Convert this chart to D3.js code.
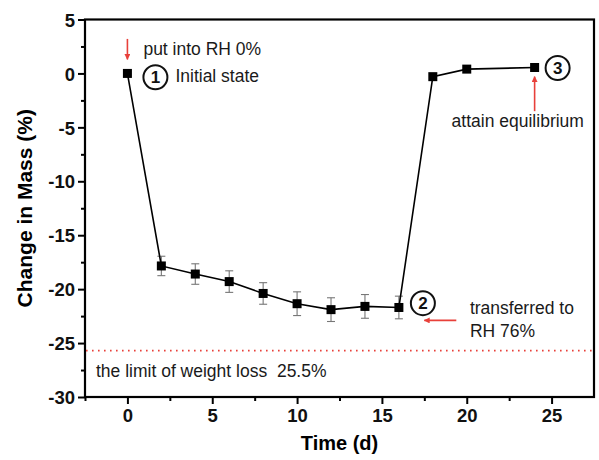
<!DOCTYPE html>
<html>
<head>
<meta charset="utf-8">
<script src="https://cdn.jsdelivr.net/npm/d3@7"></script>
<style>
  body { margin: 0; background: #fff; }
  svg { font-family: "Liberation Sans", Arial, sans-serif; }
  .tick text { font-weight: bold; font-size: 18.5px; fill: #111; }
  .note { font-size: 17.5px; fill: #1a1a1a; white-space: pre; }
</style>
</head>
<body>
<svg id="chart" width="599" height="460"></svg>
<script>
// time in days, mass change in %
var days = [0, 2, 4, 6, 8, 10, 12, 14, 16, 18, 20, 24];
var massChange = [0, -17.85, -18.6, -19.3, -20.4, -21.35, -21.9, -21.6, -21.7, -0.3, 0.4, 0.55];
var errors = [0, 0.9, 0.95, 1.0, 1.0, 1.1, 1.1, 1.1, 1.05, 0, 0, 0];
var xTicks = [0, 5, 10, 15, 20, 25];
var yTicks = [5, 0, -5, -10, -15, -20, -25, -30];
var weightLossLimit = -25.7;

var svg = d3.select('#chart');

var margin = { top: 19.5, right: 5, bottom: 63, left: 85 };
var width = 599 - margin.left - margin.right;
var height = 460 - margin.top - margin.bottom;

var g = svg.append('g')
  .attr('transform', `translate(${margin.left}, ${margin.top})`);

var x = d3.scaleLinear().domain([-2.5, 27.5]).range([0, width]);
var y = d3.scaleLinear().domain([-30, 5]).range([height, 0]);

// minor ticks first
g.append('g')
  .attr('transform', `translate(0, ${height})`)
  .call(d3.axisBottom(x).tickValues([-2.5, 2.5, 7.5, 12.5, 17.5, 22.5]).tickSize(4).tickFormat(''))
  .call(a => a.select('.domain').remove())
  .selectAll('line').attr('stroke-width', 2);

g.append('g')
  .call(d3.axisLeft(y).tickValues([2.5, -2.5, -7.5, -12.5, -17.5, -22.5, -27.5]).tickSize(4).tickFormat(''))
  .call(a => a.select('.domain').remove())
  .selectAll('line').attr('stroke-width', 2);

var xAxis = g.append('g')
  .attr('transform', `translate(0, ${height})`)
  .call(d3.axisBottom(x).tickValues(xTicks).tickSize(7).tickPadding(5).tickSizeOuter(0));
xAxis.select('.domain').remove();
xAxis.selectAll('line').attr('stroke-width', 2);

var yAxis = g.append('g')
  .call(d3.axisLeft(y).tickValues(yTicks).tickSize(7).tickPadding(3).tickFormat(d => String(d)).tickSizeOuter(0));
yAxis.select('.domain').remove();
yAxis.selectAll('line').attr('stroke-width', 2);
yAxis.selectAll('text').attr('dy', '0.36em');

// frame
g.append('rect')
  .attr('width', width)
  .attr('height', height)
  .attr('fill', 'none')
  .attr('stroke', '#000')
  .attr('stroke-width', 2.2);

// limit line
g.append('line')
  .attr('x1', 1).attr('x2', width - 1)
  .attr('y1', y(weightLossLimit)).attr('y2', y(weightLossLimit))
  .attr('stroke', '#e8403a')
  .attr('stroke-width', 1.6)
  .attr('stroke-dasharray', '1.6,4.4');

var data = days.map((d, i) => ({ t: d, m: massChange[i], e: errors[i] }));

// error bars
var eb = g.selectAll('g.err')
  .data(data.filter(d => d.e > 0))
  .enter().append('g')
  .attr('class', 'err')
  .attr('stroke', '#777')
  .attr('stroke-width', 1.1);
eb.append('line')
  .attr('x1', d => x(d.t)).attr('x2', d => x(d.t))
  .attr('y1', d => y(d.m + d.e)).attr('y2', d => y(d.m - d.e));
eb.append('line')
  .attr('x1', d => x(d.t) - 4).attr('x2', d => x(d.t) + 4)
  .attr('y1', d => y(d.m + d.e)).attr('y2', d => y(d.m + d.e));
eb.append('line')
  .attr('x1', d => x(d.t) - 4).attr('x2', d => x(d.t) + 4)
  .attr('y1', d => y(d.m - d.e)).attr('y2', d => y(d.m - d.e));

g.append('path')
  .datum(data)
  .attr('fill', 'none')
  .attr('stroke', '#000')
  .attr('stroke-width', 1.6)
  .attr('d', d3.line().x(d => x(d.t)).y(d => y(d.m)));

g.selectAll('rect.pt')
  .data(data)
  .enter().append('rect')
  .attr('class', 'pt')
  .attr('x', d => x(d.t) - 4.5)
  .attr('y', d => y(d.m) - 4.5)
  .attr('width', 9)
  .attr('height', 9)
  .attr('fill', '#000');

// arrows
var red = '#e8403a';
svg.append('defs').append('marker')
  .attr('id', 'head')
  .attr('viewBox', '0 0 10 10')
  .attr('refX', 9).attr('refY', 5)
  .attr('markerWidth', 6).attr('markerHeight', 6)
  .attr('markerUnits', 'userSpaceOnUse')
  .attr('orient', 'auto')
  .append('path').attr('d', 'M0,0L10,5L0,10z').attr('fill', red);

function arrow(x1, y1, x2, y2) {
  g.append('line')
    .attr('x1', x1).attr('y1', y1).attr('x2', x2).attr('y2', y2)
    .attr('stroke', red).attr('stroke-width', 1.6)
    .attr('marker-end', 'url(#head)');
}
arrow(x(0), y(3.2), x(0), y(1.3));
arrow(x(24), y(-3.5), x(24), y(-0.3));
arrow(x(27.4) - 136, y(-22.9), x(27.4) - 168, y(-22.9));

function circled(cx, cy, label) {
  g.append('circle')
    .attr('cx', cx).attr('cy', cy).attr('r', 12)
    .attr('fill', 'none').attr('stroke', '#111').attr('stroke-width', 2);
  g.append('text')
    .attr('x', cx).attr('y', cy).attr('dy', '0.36em')
    .attr('text-anchor', 'middle')
    .style('font-size', '17px').style('font-weight', 'bold').style('fill', '#111')
    .text(label);
}
circled(x(0) + 28, y(-0.35), '1');
circled(x(16) + 24, y(-21.3), '2');
circled(x(24) + 23, y(0.5), '3');

function note(tx, ty, s) {
  g.append('text').attr('class', 'note').attr('x', tx).attr('y', ty).text(s);
}
note(x(0) + 16, y(1.7), 'put into RH 0%');
note(x(0) + 48, y(-0.8), 'Initial state');
note(x(24) - 83, y(-5.0), 'attain equilibrium');
note(x(16) + 71, y(-22.3), 'transferred to');
note(x(16) + 71, y(-24.4), 'RH 76%');
note(11, y(-28.1), 'the limit of weight loss  25.5%');

// axis titles
svg.append('text')
  .attr('transform', `translate(32, ${margin.top + height / 2}) rotate(-90)`)
  .attr('text-anchor', 'middle')
  .style('font-size', '21px').style('font-weight', 'bold')
  .text('Change in Mass (%)');

svg.append('text')
  .attr('x', margin.left + x(12.5))
  .attr('y', 450)
  .attr('text-anchor', 'middle')
  .style('font-size', '20px').style('font-weight', 'bold')
  .text('Time (d)');
</script>
</body>
</html>
